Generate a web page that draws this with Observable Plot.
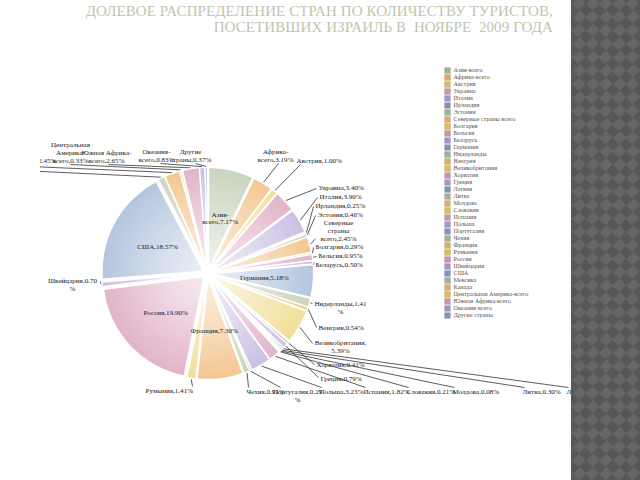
<!DOCTYPE html>
<html><head><meta charset="utf-8">
<script src="https://cdn.jsdelivr.net/npm/d3@7"></script>
<script src="https://cdn.jsdelivr.net/npm/@observablehq/plot@0.6"></script>
<style>
body{margin:0;width:640px;height:480px;overflow:hidden;background:#fff;position:relative;font-family:"Liberation Serif",serif}
#title{position:absolute;right:87px;top:3px;text-align:right;color:#c0c6ad;font-size:15px;letter-spacing:0.1px;line-height:16px;white-space:pre}
#pie{position:absolute;left:40px;top:0;width:531px;height:480px;overflow:hidden}
#pie svg{margin-left:-40px;display:block;max-width:none;width:640px;height:480px}
#legend{position:absolute;left:440px;top:60px}
#legend svg{max-width:none}
#stripe{position:absolute;left:571px;top:0;width:69px;height:480px;overflow:hidden;background:#5f5f5f}
#stripe div{position:absolute;left:-365px;top:-160px;width:800px;height:800px;transform:rotate(45deg);background:repeating-conic-gradient(#575757 0 25%,#666 0 50%) 0 0/19px 19px}
</style>
</head><body>
<div id="title">ДОЛЕВОЕ РАСПРЕДЕЛЕНИЕ СТРАН ПО КОЛИЧЕСТВУ ТУРИСТОВ,
ПОСЕТИВШИХ ИЗРАИЛЬ В  НОЯБРЕ  2009 ГОДА</div>
<div id="pie"></div>
<div id="legend"></div>
<div id="stripe"><div></div></div>
<script>
const names = ["Азия-всего","Африка-всего","Австрия","Украина","Италия","Ирландия","Эстония","Северные страны всего","Болгария","Бельгия","Беларусь","Германия","Нидерланды","Венгрия","Великобритания","Хорватия","Греция","Латвия","Литва","Молдова","Словакия","Испания","Польша","Португалия","Чехия","Франция","Румыния","Россия","Швейцария","США","Мексика","Канада","Центральная Америка-всего","Южная Африка-всего","Океания-всего","Другие страны"];
const shares = [7.17,3.19,1.00,3.40,3.90,0.25,0.46,2.45,0.29,0.95,0.50,5.18,1.41,0.54,5.39,0.41,0.79,0.30,0.30,0.08,0.21,1.82,3.23,0.29,0.91,7.30,1.41,19.90,0.70,18.57,1.07,2.45,0.33,2.65,0.83,0.37];
const slicePalette = ["#c9d5bd","#f3c793","#f1df98","#e2b3c9","#cbc0e4","#b4c5df"];
const legendPalette = ["#9fb391","#e9a85c","#dcbd52","#cf8fb0","#a394d0","#7b93c2"];

// label layout (page coordinates), separate from the data
const labelLayout = {
 "Азия-всего":{inside:true,br:["-"]},
 "Африка-всего":{x:275,y:155,a:"middle",br:["-"],lx:278,ly:163},
 "Австрия":{x:296,y:160,a:"start",lx:300,ly:164},
 "Украина":{x:318,y:187,a:"start",lx:316,ly:188},
 "Италия":{x:319,y:196,a:"start",lx:317,ly:197},
 "Ирландия":{x:315,y:205,a:"start",lx:313,ly:206},
 "Эстония":{x:317,y:214,a:"start",lx:315,ly:215},
 "Северные страны всего":{x:338,y:230,a:"middle",br:["Северные ","страны "],lx:315,ly:238},
 "Болгария":{x:315,y:246,a:"start",lx:313,ly:247},
 "Бельгия":{x:318,y:255,a:"start",lx:316,ly:256},
 "Беларусь":{x:315,y:264,a:"start",lx:313,ly:265},
 "Германия":{inside:true},
 "Нидерланды":{x:340,y:307,a:"middle",br:["1.41"],lx:312,ly:303},
 "Венгрия":{x:318,y:327,a:"start",lx:316,ly:327},
 "Великобритания":{x:340,y:346,a:"middle",br:[","],lx:312,ly:343},
 "Хорватия":{x:316,y:364,a:"start",lx:314,ly:364},
 "Греция":{x:320,y:378,a:"start",lx:318,ly:377},
 "Латвия":{x:566,y:391,a:"start",lx:568,ly:387},
 "Литва":{x:522,y:391,a:"start",lx:524,ly:387},
 "Молдова":{x:452,y:391,a:"start",lx:454,ly:387},
 "Словакия":{x:406,y:391,a:"start",lx:408,ly:387},
 "Испания":{x:363,y:391,a:"start",lx:365,ly:387},
 "Польша":{x:319,y:391,a:"start",lx:321,ly:387},
 "Португалия":{x:297,y:395,a:"middle",br:["0.29"],lx:280,ly:387},
 "Чехия":{x:246,y:391,a:"start",lx:248,ly:387},
 "Франция":{inside:true},
 "Румыния":{x:145,y:390,a:"start",lx:192,ly:386},
 "Россия":{inside:true},
 "Швейцария":{x:72,y:284,a:"middle",br:["0.70"],lx:100,ly:281},
 "США":{inside:true},
 "Мексика":{x:25,y:150,a:"end",lx:20,ly:170},
 "Канада":{x:56,y:160,a:"end",lx:30,ly:166},
 "Центральная Америка-всего":{x:70,y:152,a:"middle",br:["Центральная ","-"],lx:70,ly:164},
 "Южная Африка-всего":{x:106,y:156,a:"middle",br:["-"],lx:108,ly:164},
 "Океания-всего":{x:156,y:155,a:"middle",br:["-"],lx:160,ly:163},
 "Другие страны":{x:190,y:155,a:"middle",br:["Другие "],lx:195,ly:163}
};

const CX = 207, CY = 273, R = 101, EXPL = 5, RIN = 52;
const arcs = d3.pie().sort(null).value(d => d)(shares);
const pts = [], labels = [], leaders = [];
const wrap = (t, brks) => { (brks||[]).forEach(b => { t = t.replace(b, b.trimEnd() + "\n"); }); return t; };
arcs.forEach((a, i) => {
  const name = names[i];
  const m = (a.startAngle + a.endAngle) / 2;
  const ox = CX + EXPL * Math.sin(m), oy = CY - EXPL * Math.cos(m);
  pts.push({k: name, x: ox, y: oy});
  const n = Math.max(2, Math.ceil((a.endAngle - a.startAngle) / 0.02));
  for (let j = 0; j <= n; j++) {
    const t = a.startAngle + (a.endAngle - a.startAngle) * j / n;
    pts.push({k: name, x: ox + R * Math.sin(t), y: oy - R * Math.cos(t)});
  }
  const L = labelLayout[name];
  const text = wrap(`${name},${shares[i].toFixed(2)}%`, L.br);
  if (L.inside) {
    labels.push({t: text, x: ox + RIN * Math.sin(m), y: oy - RIN * Math.cos(m), a: "middle"});
  } else {
    labels.push({t: text, x: L.x, y: L.y, a: L.a});
    leaders.push({x1: ox + (R + 1) * Math.sin(m), y1: oy - (R + 1) * Math.cos(m), x2: L.lx, y2: L.ly});
  }
});

const colorRange = names.map((d, i) => slicePalette[i % 6]);
const legendRange = names.map((d, i) => legendPalette[i % 6]);
const txt = (anchor) => Plot.text(labels.filter(d => d.a === anchor), {x: "x", y: "y", text: "t", textAnchor: anchor, fontSize: 7.1, lineHeight: 1.12, fill: "#222"});

const pie = Plot.plot({
  width: 640, height: 480, margin: 0,
  x: {domain: [0, 640], range: [0, 640], axis: null},
  y: {domain: [0, 480], range: [0, 480], axis: null},
  color: {type: "ordinal", domain: names, range: colorRange},
  style: {background: "transparent", fontFamily: "Liberation Serif, serif"},
  marks: [
    Plot.link(leaders, {x1: "x1", y1: "y1", x2: "x2", y2: "y2", stroke: "#333", strokeWidth: 0.8}),
    Plot.line(pts, {x: "x", y: "y", z: "k", fill: "k", stroke: "#fff", strokeWidth: 1.2, curve: "linear-closed"}),
    Plot.line(pts, {x: "x", y: "y", z: "k", fill: "url(#shine)", stroke: "none", curve: "linear-closed"}),
    txt("start"), txt("middle"), txt("end")
  ]
});
// radial highlight gradient (lighter toward the pie centre)
const NS = "http://www.w3.org/2000/svg";
const defs = document.createElementNS(NS, "defs");
const grad = document.createElementNS(NS, "radialGradient");
grad.setAttribute("id", "shine");
grad.setAttribute("gradientUnits", "userSpaceOnUse");
grad.setAttribute("cx", CX); grad.setAttribute("cy", CY); grad.setAttribute("r", R + EXPL);
[[0, 0.75], [0.45, 0.45], [1, 0]].forEach(([o, a]) => {
  const s = document.createElementNS(NS, "stop");
  s.setAttribute("offset", o); s.setAttribute("stop-color", "#fff"); s.setAttribute("stop-opacity", a);
  grad.appendChild(s);
});
defs.appendChild(grad);
pie.insertBefore(defs, pie.firstChild);
document.getElementById("pie").appendChild(pie);

const legend = Plot.plot({
  width: 130, height: 265, margin: 0,
  x: {domain: [0, 130], range: [0, 130], axis: null},
  y: {type: "point", domain: names, range: [6, 259], axis: null},
  color: {type: "ordinal", domain: names, range: legendRange},
  style: {background: "transparent", fontFamily: "Liberation Serif, serif"},
  marks: [
    Plot.dot(names, {x: () => 7, y: d => d, symbol: "square", r: 3.3, fill: d => d, stroke: "#999", strokeWidth: 0.3}),
    Plot.text(names, {x: () => 13, y: d => d, text: d => d, textAnchor: "start", fontSize: 6.2, fill: "#555"})
  ]
});
document.getElementById("legend").appendChild(legend);
</script>
</body></html>
